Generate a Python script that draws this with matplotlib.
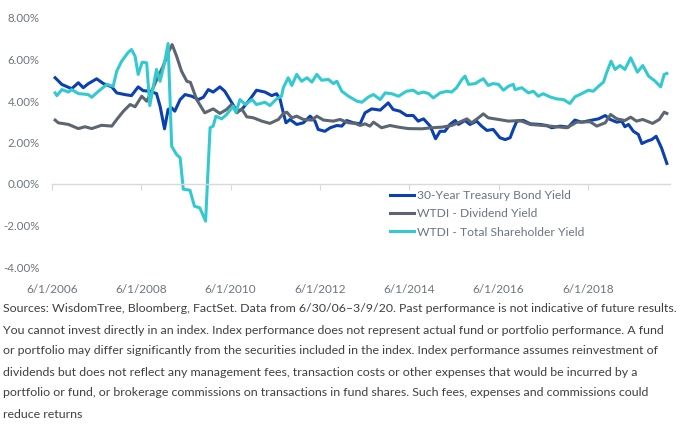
import matplotlib
matplotlib.use("Agg")
import matplotlib.pyplot as plt
from matplotlib.ticker import FuncFormatter

plt.rcParams['font.family'] = ['Lato', 'DejaVu Sans']

# Treasury 30Y (decimal year, % yield)
tsy_t = [2006.49, 2006.64, 2006.86, 2007.01, 2007.12, 2007.23, 2007.42, 2007.57, 2007.76, 2007.87,
         2008.05, 2008.20, 2008.35, 2008.46, 2008.61, 2008.76, 2008.84, 2008.94, 2009.02, 2009.10,
         2009.17, 2009.29, 2009.40, 2009.55, 2009.70, 2009.81, 2009.92, 2010.03, 2010.18, 2010.29,
         2010.44, 2010.56, 2010.67, 2010.85, 2011.00, 2011.19, 2011.34, 2011.45, 2011.53, 2011.60,
         2011.66, 2011.75, 2011.90, 2012.05, 2012.20, 2012.31, 2012.38, 2012.53, 2012.65, 2012.80,
         2012.91, 2013.02, 2013.17, 2013.32, 2013.43, 2013.58, 2013.77, 2013.95, 2014.06, 2014.21,
         2014.36, 2014.51, 2014.62, 2014.74, 2014.89, 2015.01, 2015.11, 2015.22, 2015.33, 2015.45,
         2015.52, 2015.67, 2015.78, 2015.93, 2016.04, 2016.16, 2016.30, 2016.45, 2016.57, 2016.68,
         2016.75, 2016.83, 2016.98, 2017.13, 2017.35, 2017.50, 2017.61, 2017.80, 2017.98, 2018.13,
         2018.28, 2018.47, 2018.66, 2018.81, 2018.92, 2019.07, 2019.18, 2019.25, 2019.33, 2019.44,
         2019.55, 2019.63, 2019.74, 2019.85, 2019.95, 2020.07, 2020.19]
tsy_y = [5.12, 4.80, 4.59, 4.88, 4.64, 4.83, 5.07, 4.84, 4.68, 4.39,
         4.31, 4.26, 4.68, 4.50, 4.47, 4.36, 3.75, 2.66, 3.59, 3.67,
         3.51, 4.07, 4.31, 4.23, 4.07, 4.18, 4.55, 4.43, 4.68, 4.47,
         3.94, 3.51, 3.59, 4.07, 4.52, 4.43, 4.26, 4.35, 4.07, 3.43,
         2.95, 3.11, 2.87, 2.95, 3.27, 3.03, 2.63, 2.54, 2.71, 2.82,
         2.79, 3.06, 2.95, 2.90, 3.43, 3.62, 3.56, 3.91, 3.59, 3.51,
         3.30, 3.30, 3.03, 3.14, 2.79, 2.18, 2.54, 2.54, 2.87, 3.06,
         2.87, 3.06, 2.87, 3.03, 2.79, 2.58, 2.63, 2.23, 2.14, 2.23,
         2.63, 3.03, 3.06, 2.90, 2.87, 2.82, 2.71, 2.79, 2.74, 3.08,
         2.98, 3.06, 3.14, 3.30, 3.11, 2.98, 3.03, 2.76, 2.87, 2.54,
         2.39, 1.95, 2.06, 2.14, 2.30, 1.74, 0.99]

# WTDI dividend yield
div_t = [2006.49, 2006.56, 2006.79, 2007.01, 2007.16, 2007.31, 2007.53, 2007.76, 2007.87, 2008.02,
         2008.17, 2008.28, 2008.43, 2008.54, 2008.65, 2008.80, 2008.91, 2009.02, 2009.11, 2009.21,
         2009.32, 2009.44, 2009.52, 2009.66, 2009.84, 2010.03, 2010.18, 2010.33, 2010.44, 2010.56,
         2010.67, 2010.78, 2010.93, 2011.12, 2011.30, 2011.49, 2011.60, 2011.68, 2011.79, 2011.90,
         2012.05, 2012.24, 2012.35, 2012.50, 2012.72, 2012.87, 2013.06, 2013.21, 2013.32, 2013.43,
         2013.54, 2013.62, 2013.80, 2013.99, 2014.18, 2014.40, 2014.70, 2014.92, 2015.15, 2015.37,
         2015.60, 2015.71, 2015.82, 2015.97, 2016.08, 2016.19, 2016.42, 2016.64, 2016.90, 2017.13,
         2017.42, 2017.72, 2017.95, 2018.17, 2018.47, 2018.62, 2018.81, 2018.93, 2019.07, 2019.25,
         2019.38, 2019.51, 2019.65, 2019.87, 2020.02, 2020.13, 2020.19]
div_y = [3.08, 2.95, 2.87, 2.67, 2.76, 2.67, 2.83, 2.79, 3.11, 3.51,
         3.83, 3.72, 4.23, 3.99, 4.47, 5.20, 5.68, 6.32, 6.72, 6.16,
         5.44, 4.95, 4.90, 4.07, 3.43, 3.62, 3.40, 3.59, 3.83, 3.43,
         3.62, 3.24, 3.19, 3.03, 2.92, 3.11, 3.40, 3.46, 3.19, 3.27,
         3.11, 3.08, 3.27, 3.08, 3.03, 3.11, 2.95, 2.92, 2.82, 2.90,
         2.79, 2.98, 2.71, 2.82, 2.74, 2.67, 2.66, 2.71, 2.74, 2.82,
         3.03, 3.14, 2.95, 3.19, 3.38, 3.19, 3.11, 3.03, 3.06, 2.87,
         2.82, 2.76, 2.71, 2.98, 3.00, 2.79, 2.95, 3.35, 3.14, 3.06,
         3.22, 3.03, 3.11, 2.92, 3.11, 3.46, 3.40]

# WTDI total shareholder yield
tsh_t = [2006.49, 2006.53, 2006.64, 2006.79, 2006.86, 2007.01, 2007.23, 2007.31, 2007.46, 2007.65,
         2007.79, 2007.87, 2007.98, 2008.13, 2008.20, 2008.28, 2008.35, 2008.44, 2008.54, 2008.61,
         2008.76, 2008.84, 2008.94, 2009.02, 2009.10, 2009.21, 2009.29, 2009.36, 2009.51, 2009.61,
         2009.73, 2009.86, 2009.96, 2010.03, 2010.09, 2010.22, 2010.33, 2010.48, 2010.54, 2010.63,
         2010.75, 2010.90, 2011.00, 2011.19, 2011.30, 2011.45, 2011.56, 2011.60, 2011.71, 2011.79,
         2011.90, 2012.01, 2012.13, 2012.24, 2012.35, 2012.46, 2012.61, 2012.72, 2012.80, 2012.91,
         2013.06, 2013.25, 2013.36, 2013.51, 2013.62, 2013.77, 2013.88, 2014.03, 2014.18, 2014.36,
         2014.51, 2014.62, 2014.74, 2014.85, 2014.96, 2015.11, 2015.26, 2015.37, 2015.48, 2015.60,
         2015.67, 2015.75, 2015.90, 2016.01, 2016.08, 2016.19, 2016.30, 2016.42, 2016.53, 2016.64,
         2016.75, 2016.79, 2016.94, 2017.09, 2017.20, 2017.31, 2017.42, 2017.57, 2017.72, 2017.87,
         2018.02, 2018.13, 2018.28, 2018.43, 2018.54, 2018.66, 2018.77, 2018.84, 2018.94, 2019.03,
         2019.14, 2019.25, 2019.38, 2019.53, 2019.65, 2019.78, 2019.93, 2020.05, 2020.13, 2020.19]
tsh_y = [4.39, 4.26, 4.55, 4.43, 4.55, 4.36, 4.31, 4.18, 4.47, 4.80,
         4.71, 5.44, 5.92, 6.35, 6.48, 6.16, 5.28, 5.87, 5.84, 3.78,
         5.52, 4.95, 5.84, 6.77, 1.82, 1.42, 1.26, -0.25, -0.30, -1.07,
         -1.15, -1.79, 2.71, 2.79, 3.27, 3.14, 3.35, 3.75, 3.46, 4.07,
         3.83, 4.07, 3.83, 3.94, 3.78, 4.10, 4.23, 4.64, 5.12, 4.75,
         5.28, 4.95, 5.12, 4.91, 5.28, 5.00, 5.04, 4.84, 4.95, 4.47,
         4.23, 3.99, 3.94, 4.20, 4.31, 4.07, 4.39, 4.35, 4.23, 4.47,
         4.52, 4.36, 4.43, 4.36, 4.15, 4.39, 4.47, 4.43, 4.64, 5.04,
         5.20, 4.80, 4.84, 4.99, 5.07, 4.75, 4.84, 4.80, 4.52, 4.71,
         4.80, 4.55, 4.64, 4.39, 4.47, 4.23, 4.35, 4.20, 4.10, 4.07,
         3.88, 4.20, 4.35, 4.52, 4.47, 4.71, 4.91, 5.36, 5.92, 5.52,
         5.71, 5.52, 6.08, 5.39, 5.71, 5.20, 4.95, 4.68, 5.28, 5.33]

tick_years = [2006.42, 2008.42, 2010.42, 2012.42, 2014.42, 2016.42, 2018.42]
tick_labels = ["6/1/2006", "6/1/2008", "6/1/2010", "6/1/2012", "6/1/2014", "6/1/2016", "6/1/2018"]
y_ticks = [-4, -2, 0, 2, 4, 6, 8]

footnote = [
    "Sources: WisdomTree, Bloomberg, FactSet. Data from 6/30/06\u20133/9/20. Past performance is not indicative of future results.",
    "You cannot invest directly in an index. Index performance does not represent actual fund or portfolio performance. A fund",
    "or portfolio may differ significantly from the securities included in the index. Index performance assumes reinvestment of",
    "dividends but does not reflect any management fees, transaction costs or other expenses that would be incurred by a",
    "portfolio or fund, or brokerage commissions on transactions in fund shares. Such fees, expenses and commissions could",
    "reduce returns",
]

grey_txt = "#6b7580"

fig = plt.figure(figsize=(6.85, 4.29), dpi=100)
ax = fig.add_axes([52/685, 1-267/429, 618/685, 249/429])

ax.plot(tsy_t, tsy_y, color="#0a40b0", lw=2.2, label="30-Year Treasury Bond Yield")
ax.plot(div_t, div_y, color="#5d6670", lw=2.2, label="WTDI - Dividend Yield")
ax.plot(tsh_t, tsh_y, color="#33c9d1", lw=2.2, label="WTDI - Total Shareholder Yield")

ax.set_xlim(2006.42, 2020.26)
ax.set_ylim(-4, 8)
ax.set_yticks(y_ticks)
ax.yaxis.set_major_formatter(FuncFormatter(lambda v, p: f"{v:.2f}%"))
ax.set_xticks(tick_years)
ax.set_xticklabels(tick_labels)

for s in ["top", "right", "left"]:
    ax.spines[s].set_visible(False)
ax.spines["bottom"].set_position(("data", 0))
ax.spines["bottom"].set_color("#d9d9d9")
ax.spines["bottom"].set_linewidth(1)
ax.tick_params(axis="x", direction="out", length=4, color="#d9d9d9", pad=68,
               labelsize=8.5, labelcolor=grey_txt)
ax.tick_params(axis="y", length=0, pad=9, labelsize=8.3, labelcolor=grey_txt)

fig.legend(loc="upper left", bbox_to_anchor=(384/685, 1-184/429), frameon=False,
           fontsize=8.7, handlelength=2.0, handletextpad=0.2, labelspacing=0.6,
           borderpad=0, labelcolor=grey_txt)

for i, line in enumerate(footnote):
    fig.text(3/685, 1-(309 + 21*i)/429, line, fontsize=8.9, color="#404040", va="center", ha="left")

fig.savefig("out.png", dpi=100)
